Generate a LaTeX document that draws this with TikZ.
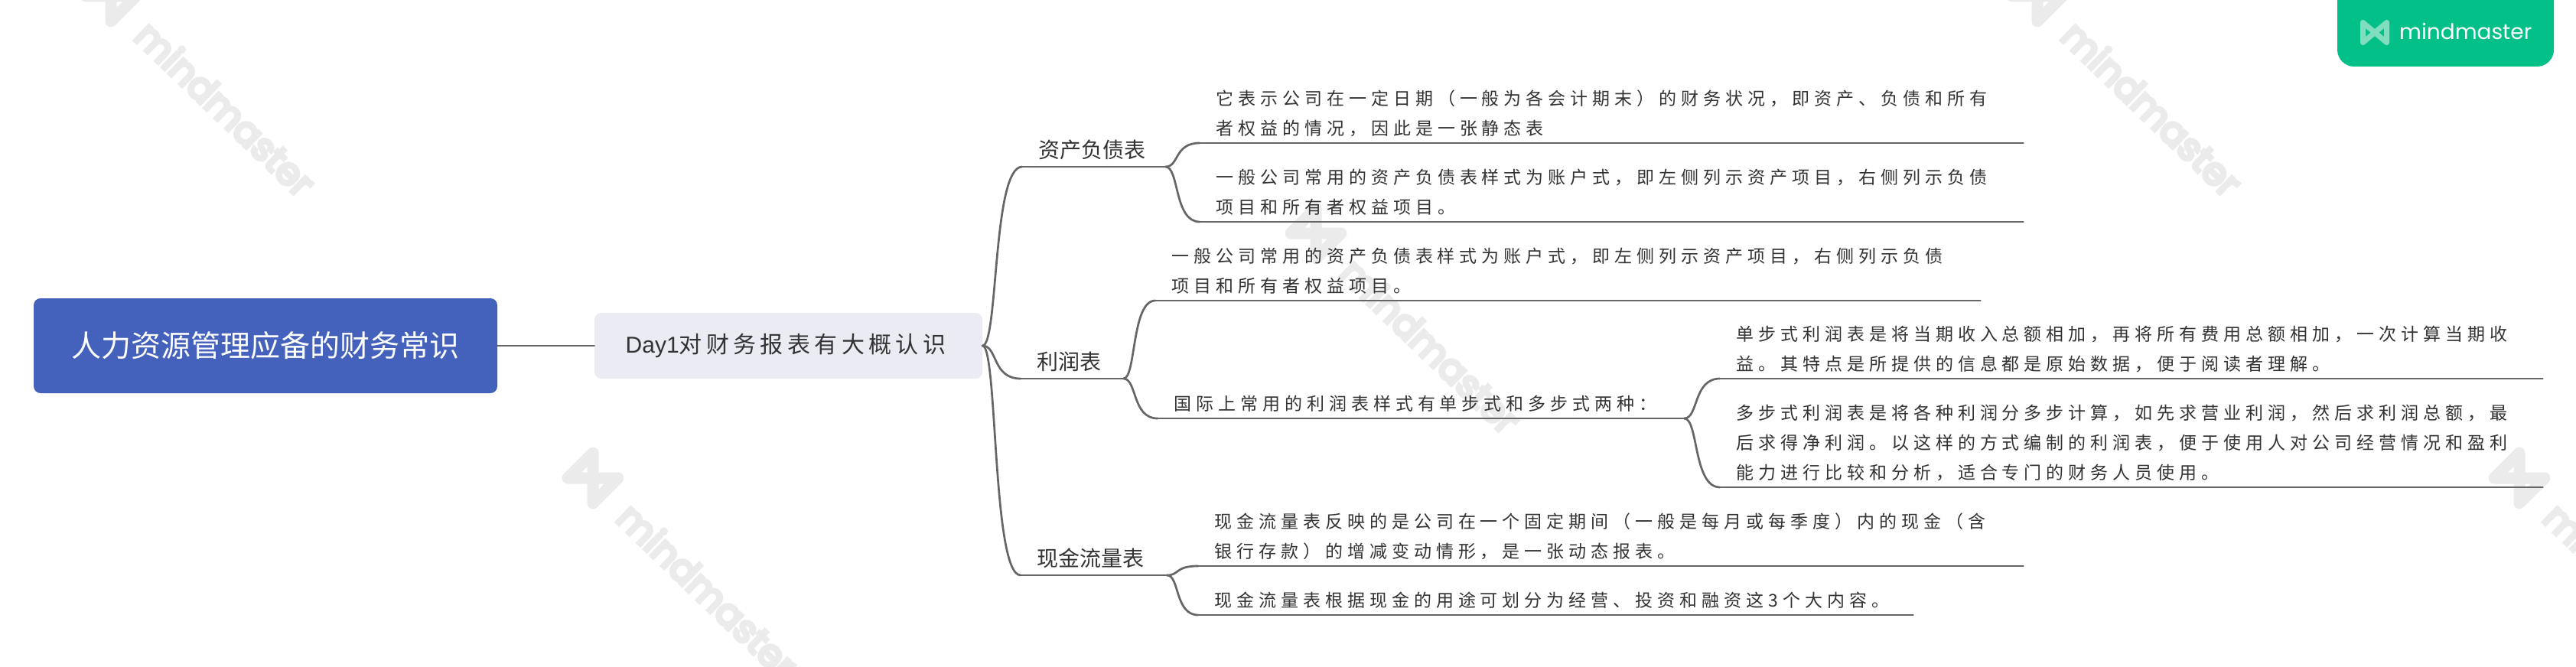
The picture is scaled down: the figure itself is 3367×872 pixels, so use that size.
\documentclass[tikz,border=0pt]{standalone}
\usepackage{fontspec}
\usetikzlibrary{calc}
\setmainfont{Liberation Sans}
\newfontfamily\cjkplain{Noto Sans CJK SC}
\newfontfamily\cjkbody[LetterSpace=26]{Noto Sans CJK SC}
\newfontfamily\cjkday[LetterSpace=18]{Noto Sans CJK SC}
\newfontfamily\brandfont{Poppins}
\newfontfamily\wmfont[FakeBold=9]{Poppins}
\definecolor{linegrey}{HTML}{666666}
\definecolor{inkgrey}{HTML}{333333}
\definecolor{rootblue}{HTML}{4461BB}
\definecolor{daybox}{HTML}{EAEBF3}
\definecolor{wmgrey}{HTML}{EBEBEB}
\definecolor{badge}{HTML}{02C087}
\definecolor{badgeicon}{HTML}{80DDBD}
\tikzset{
  conn/.style={draw=linegrey,line width=2.7pt,line cap=round},
  bodytext/.style={font=\cjkbody\fontsize{23}{39}\selectfont,text=inkgrey,anchor=south west,align=left,inner xsep=21pt,inner ysep=8pt},
  branchtext/.style={font=\cjkplain\fontsize{28}{34}\selectfont,text=inkgrey,anchor=south west,align=left,inner xsep=21pt,inner ysep=9pt},
  rootbox/.style={fill=rootblue,rounded corners=9pt,text=white,font=\cjkplain\fontsize{39}{46}\selectfont,minimum width=606pt,minimum height=124pt,inner sep=0pt},
  daynode/.style={fill=daybox,rounded corners=9pt,text=inkgrey,minimum width=507pt,minimum height=86pt,inner sep=0pt},
  wmtext/.style={font=\wmfont\fontsize{49}{49}\selectfont,text=wmgrey,rotate=-44,anchor=base west,inner sep=0pt},
}
\newcommand{\linenode}[6]{%
  \pgfmathsetmacro{\tw}{#3-#2-42}%
  \node[#5,text width=\tw pt] (#1) at (#2,#4) {#6};%
  \draw[conn] (#1.south west) -- (#1.south east);%
}
\newcommand{\linkcurve}[2]{%
  \draw[conn] let \p1=(#1),\p2=(#2) in (\p1) .. controls ({\x1+0.4*(\x2-\x1)},\y1) and ({\x1+0.25*(\x2-\x1)},\y2) .. (\p2);%
}
\newcommand{\wmark}[3]{%
  \node[wmtext] (#1) at (#2,#3) {mindmaster};%
  \begin{scope}[shift={(#2-28,#3-55)}]
    \draw[draw=wmgrey,line width=15pt,line join=round] (-33,0) -- (0,-33) -- (0,33) -- (33,0) -- cycle;
  \end{scope}%
}
\begin{document}
\begin{tikzpicture}[x=1pt,y=-1pt]
\useasboundingbox (0,0) rectangle (3367,872);
\fill[white] (0,0) rectangle (3367,872);
\clip (0,0) rectangle (3367,872);
% watermarks
\wmark{wma}{173}{50}
\wmark{wmb}{803}{680}
\wmark{wmc}{1748}{360}
\wmark{wmd}{2691}{50}
\wmark{wme}{3321}{680}
% logo badge
\fill[badge,rounded corners=22pt] (3055,-40) rectangle (3338,87);
\begin{scope}[shift={(3104,42.5)}]
  \draw[draw=badgeicon,line width=7pt,line join=round,line cap=round] (-15.5,-13) -- (15.5,13) -- (15.5,-13) -- (-15.5,13) -- cycle;
\end{scope}
\node[font=\brandfont\fontsize{28}{28}\selectfont,text=white,anchor=west,inner sep=0pt] (brand) at (3136,41) {mindmaster};
% root and main
\node[rootbox] (root) at (347,452) {人力资源管理应备的财务常识};
\node[daynode] (day) at (1030.5,452) {\raisebox{-8pt}{\fontsize{30}{36}\selectfont Day1\cjkday 对财务报表有大概认识\hspace*{7pt}}};
\draw[conn] (root.east) -- (day.west);
% branches
\linenode{bs}{1336}{1523}{218}{branchtext}{资产负债表}
\linenode{pl}{1334}{1468}{495}{branchtext}{利润表}
\linenode{cf}{1334}{1525}{752}{branchtext}{现金流量表}
\linkcurve{day.east}{bs.south west}
\linkcurve{day.east}{pl.south west}
\linkcurve{day.east}{cf.south west}
% balance sheet
\linenode{bsa}{1568}{2644}{187}{bodytext}{它表示公司在一定日期（一般为各会计期末）的财务状况，即资产、负债和所有\\者权益的情况，因此是一张静态表}
\linenode{bsb}{1568}{2644}{290}{bodytext}{一般公司常用的资产负债表样式为账户式，即左侧列示资产项目，右侧列示负债\\项目和所有者权益项目。}
\linkcurve{bs.south east}{bsa.south west}
\linkcurve{bs.south east}{bsb.south west}
% profit
\linenode{pla}{1510}{2588}{393}{bodytext}{一般公司常用的资产负债表样式为账户式，即左侧列示资产项目，右侧列示负债\\项目和所有者权益项目。}
\linenode{plb}{1513}{2201}{547}{bodytext}{国际上常用的利润表样式有单步式和多步式两种：}
\linkcurve{pl.south east}{pla.south west}
\linkcurve{pl.south east}{plb.south west}
\linenode{plc}{2248}{3323}{495}{bodytext}{单步式利润表是将当期收入总额相加，再将所有费用总额相加，一次计算当期收\\益。其特点是所提供的信息都是原始数据，便于阅读者理解。}
\linenode{pld}{2248}{3323}{637}{bodytext}{多步式利润表是将各种利润分多步计算，如先求营业利润，然后求利润总额，最\\后求得净利润。以这样的方式编制的利润表，便于使用人对公司经营情况和盈利\\能力进行比较和分析，适合专门的财务人员使用。}
\linkcurve{plb.south east}{plc.south west}
\linkcurve{plb.south east}{pld.south west}
% cash flow
\linenode{cfa}{1566}{2644}{740}{bodytext}{现金流量表反映的是公司在一个固定期间（一般是每月或每季度）内的现金（含\\银行存款）的增减变动情形，是一张动态报表。}
\linenode{cfb}{1566}{2500}{804}{bodytext}{现金流量表根据现金的用途可划分为经营、投资和融资这3个大内容。}
\linkcurve{cf.south east}{cfa.south west}
\linkcurve{cf.south east}{cfb.south west}
\end{tikzpicture}
\end{document}
